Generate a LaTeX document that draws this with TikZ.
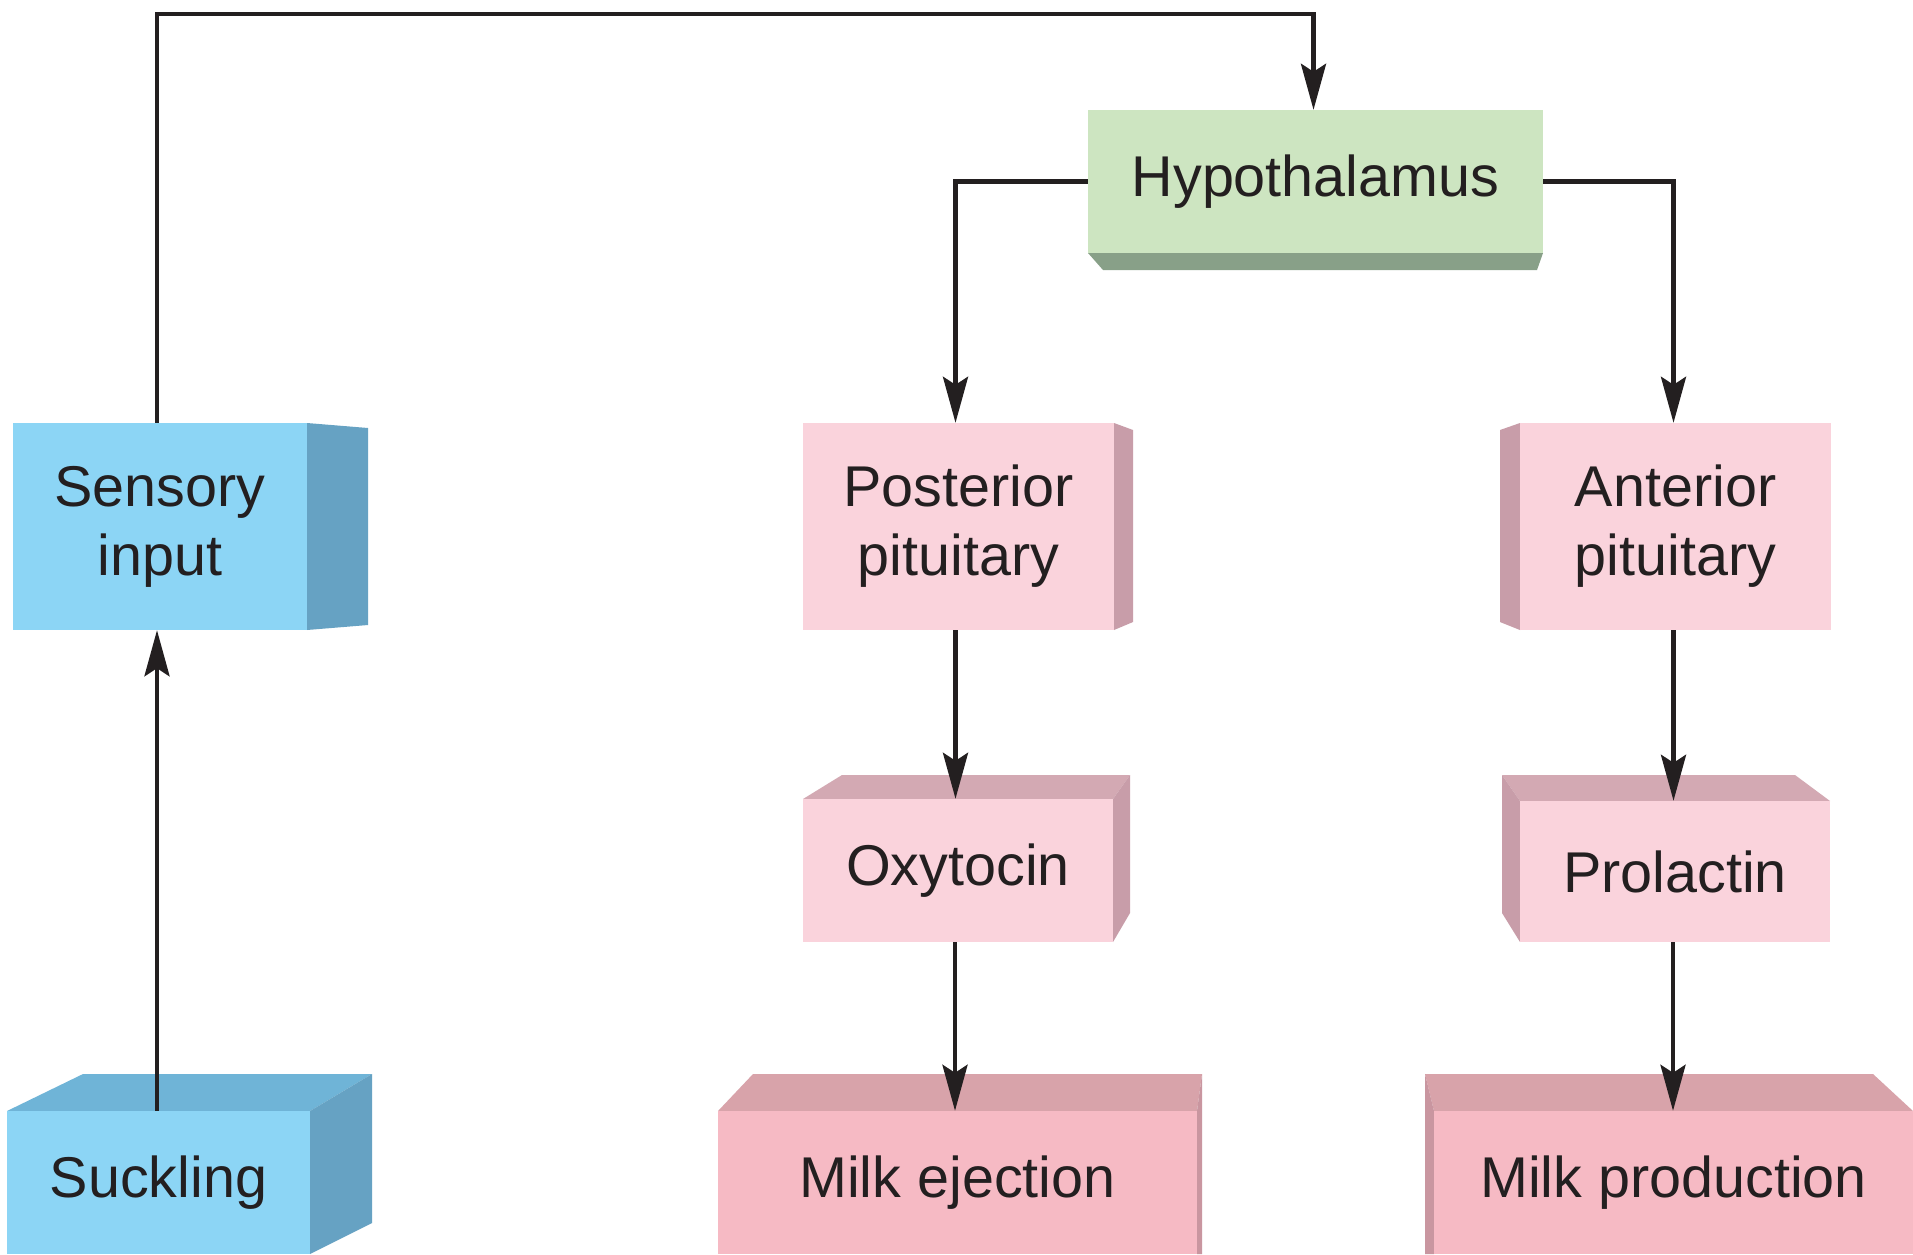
\documentclass[tikz,border=0pt]{standalone}
\usepackage{fontspec}
\setmainfont{Liberation Sans}
\usetikzlibrary{arrows.meta}
\definecolor{bluefront}{HTML}{8CD5F5}
\definecolor{blueside}{HTML}{66A2C3}
\definecolor{bluetop}{HTML}{6FB4D7}
\definecolor{greenfront}{HTML}{CDE5C1}
\definecolor{greenside}{HTML}{88A088}
\definecolor{pinkfront}{HTML}{FAD3DC}
\definecolor{pinkside}{HTML}{C89DA9}
\definecolor{pinktop}{HTML}{D3A9B3}
\definecolor{milkfront}{HTML}{F6BAC4}
\definecolor{milktop}{HTML}{D8A3AA}
\definecolor{milkside}{HTML}{C996A0}
\definecolor{ink}{HTML}{231F20}
\tikzset{
  box/.style={inner sep=0pt, align=center, text=ink,
    font=\fontsize{57.5}{69}\selectfont},
  bluebox/.style={box, fill=bluefront},
  greenbox/.style={box, fill=greenfront},
  pinkbox/.style={box, fill=pinkfront},
  milkbox/.style={box, fill=milkfront},
  conn/.style={draw=ink, line width=4.5pt, -{Stealth[length=46pt,width=25pt,inset=8pt]}},
}
\begin{document}
\begin{tikzpicture}[x=1pt,y=-1pt]
\useasboundingbox (0,0) rectangle (1913,1254);
\fill[white] (0,0) rectangle (1913,1254);

% 3D faces
\fill[greenside] (1088,253) -- (1543,253) -- (1537,270) -- (1103,270) -- cycle;
\fill[blueside] (307,423) -- (368,428) -- (368,625) -- (307,630) -- cycle;
\fill[pinkside] (1114,423) -- (1133,430) -- (1133,622) -- (1114,630) -- cycle;
\fill[pinkside] (1520,423) -- (1500,430) -- (1500,622) -- (1520,630) -- cycle;
\fill[pinktop] (803,799) -- (842,775) -- (1130,775) -- (1113,799) -- cycle;
\fill[pinkside] (1113,799) -- (1130,775) -- (1130,913) -- (1113,942) -- cycle;
\fill[pinktop] (1520,801) -- (1502,775) -- (1795,775) -- (1830,801) -- cycle;
\fill[pinkside] (1520,801) -- (1502,775) -- (1502,913) -- (1520,942) -- cycle;
\fill[bluetop] (7,1111) -- (83,1074) -- (372,1074) -- (310,1111) -- cycle;
\fill[blueside] (310,1111) -- (372,1074) -- (372,1223) -- (310,1254) -- cycle;
\fill[milktop] (718,1111) -- (753,1074) -- (1202,1074) -- (1197,1111) -- cycle;
\fill[milkside] (1197,1111) -- (1202,1074) -- (1202,1254) -- (1197,1254) -- cycle;
\fill[milktop] (1434,1111) -- (1425,1074) -- (1873,1074) -- (1913,1111) -- cycle;
\fill[milkside] (1434,1111) -- (1425,1074) -- (1425,1254) -- (1434,1254) -- cycle;

% nodes (front faces)
\node[greenbox, minimum width=455pt, minimum height=143pt] (hyp) at (1315.5,181.5) {Hypothalamus};
\node[bluebox, minimum width=294pt, minimum height=207pt] (sens) at (160,526.5) {Sensory\\input};
\node[bluebox, minimum width=303pt, minimum height=143pt] (suck) at (158.5,1182.5) {Suckling};
\node[pinkbox, minimum width=311pt, minimum height=207pt] (post) at (958.5,526.5) {Posterior\\pituitary};
\node[pinkbox, minimum width=311pt, minimum height=207pt] (ant) at (1675.5,526.5) {Anterior\\pituitary};
\node[pinkbox, minimum width=310pt, minimum height=143pt] (oxy) at (958,870.5) {Oxytocin};
\node[pinkbox, minimum width=310pt, minimum height=141pt] (prl) at (1675,871.5) {Prolactin};
\node[milkbox, minimum width=479pt, minimum height=143pt] (mej) at (957.5,1182.5) {Milk ejection};
\node[milkbox, minimum width=479pt, minimum height=143pt] (mprod) at (1673.5,1182.5) {Milk production};

\coordinate (topline) at (157,14);

% connectors
\draw[conn] ([xshift=-1.5pt]suck.north) -- ([xshift=-1.5pt]suck.north |- sens.south);
\draw[conn] (topline |- sens.north) -- (topline) -| ([xshift=-2pt]hyp.north);
\draw[conn] (hyp.west) -| ([xshift=-3pt]post.north);
\draw[conn] (hyp.east) -| ([xshift=-2pt]ant.north);
\draw[conn] ([xshift=-3pt]post.south) -- ([xshift=-3pt]post.south |- oxy.north);
\draw[conn] ([xshift=-3pt]oxy.south) -- ([xshift=-3pt]oxy.south |- mej.north);
\draw[conn] ([xshift=-2pt]ant.south) -- ([xshift=-2pt]ant.south |- prl.north);
\draw[conn] ([xshift=-2pt]prl.south) -- ([xshift=-2pt]prl.south |- mprod.north);
\end{tikzpicture}
\end{document}
